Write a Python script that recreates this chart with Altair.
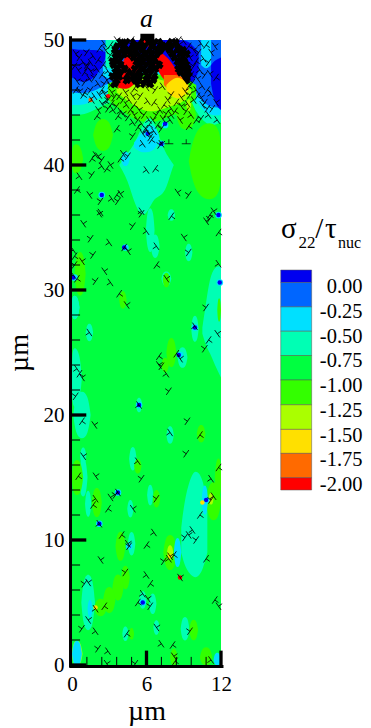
import altair as alt
import pandas as pd

FONT = "Liberation Serif"
W, H = 149, 625
LEVELS = list("0123456789")
COLORS = ["#0000f0", "#0066ff", "#00e0ff", "#00ffb4", "#00ff40",
          "#33ff00", "#aaff00", "#ffe000", "#ff6a00", "#ff0000"]

# contour regions near the top: level, x (um), lower and upper boundary (um)
regions = [
    ("3", [0, 1, 2, 3, 4, 5, 6, 7, 8, 9, 10, 11, 12], [44.0, 44.0, 44.5, 45, 45.5, 46, 46, 46, 46, 46, 44.2, 43.0, 43.4], [50] * 13),
    ("2", [0, 1, 2, 3, 4, 5, 6, 7, 8, 9, 10, 11, 12], [44.8, 44.8, 45.2, 45.8, 46.5, 47, 47, 47, 47, 47, 45.0, 43.9, 44.0], [50] * 13),
    ("1", [0, 1, 2, 3, 4, 5, 6, 7, 8, 9, 10, 11, 12], [45.8, 45.7, 46.0, 46.6, 47, 47.5, 47.5, 47.5, 47.5, 47.5, 45.6, 44.6, 44.6], [50] * 13),
    ("0", [0, 0.7, 1.4, 2.0, 2.5, 2.8], [47.0, 46.6, 46.7, 47.2, 48.0, 48.9], [49.3, 49.2, 49.2, 49.2, 49.1, 49.0]),
    ("0", [3.6, 5, 6, 7, 8, 9.2, 9.7, 10.2], [49.0, 48.0, 47.8, 47.8, 47.8, 47.0, 46.4, 47.5], [50, 50, 50, 50, 50, 50, 49.6, 49.0]),
    ("2", [10.4, 10.8, 11.2], [48.0, 47.6, 48.0], [50, 50, 50]),
    ("0", [11.2, 11.5, 12], [46.5, 44.8, 44.4], [48, 48.4, 48.6]),
    ("3", [2.7, 3.0, 3.4, 3.7], [47.6, 47.0, 47.2, 48.0], [50, 50, 50, 50]),
    ("2", [2.5, 2.7, 3.4, 3.7], [47.2, 47.0, 46.8, 47.2], [48, 47.8, 47.6, 48]),
    ("5", [2.9, 4, 5, 6, 7, 8, 9, 10], [45.2, 44.4, 43.6, 43.4, 43.5, 44.0, 44.2, 45.4], [46.5, 47.0, 47.2, 47.4, 47.2, 47.2, 47.0, 46.4]),
    ("6", [3.6, 4.4, 5.2, 6.2, 7.2, 8.2, 9.0, 9.6], [45.8, 45.2, 44.6, 44.2, 44.4, 44.8, 45.0, 45.5], [46.2, 46.6, 46.8, 47.0, 46.8, 46.6, 46.5, 46.0]),
    ("9", [3.7, 4.4, 5.0, 5.4], [46.2, 46.0, 46.4, 47.2], [47.0, 49.2, 49.4, 48.0]),
    ("9", [6.7, 7.2, 7.7, 8.3, 8.8], [48.0, 47.0, 46.6, 46.6, 46.8], [49.2, 49.0, 48.6, 47.8, 47.0]),
    ("8", [7.4, 8.0, 8.6, 9.3], [46.4, 45.8, 45.9, 46.4], [47.2, 47.2, 47.2, 46.8]),
    ("7", [7.6, 8.2, 8.8, 9.4], [46.0, 45.3, 45.3, 46.0], [46.4, 47.0, 47.0, 46.4]),
    ("9", [5.4, 6.0, 6.6], [49.6, 49.4, 49.6], [50, 50, 50]),
    # large aqua field and strips further down
    ("3", [3.8, 4.5, 5.0, 5.5, 6.0, 6.5, 7.0, 7.5, 8.0, 8.2], [40, 38.8, 37.0, 36, 36, 37.2, 37.5, 37.8, 39.5, 40], [40, 41, 41.6, 42.8, 43.8, 43.8, 42.3, 41, 40.3, 40]),
    ("2", [5.0, 5.5, 6.1, 6.7, 7.0], [41.4, 41.0, 41.0, 41.2, 42.0], [41.8, 42.4, 43.2, 43.2, 42.4]),
    ("3", [10.5, 10.8, 11.1, 11.5, 12], [26.5, 25.5, 25, 24, 23], [27, 29, 31, 31.9, 31.9]),
    ("3", [8.8, 9.1, 9.7, 10.1, 10.5, 10.9], [9, 7.8, 7, 7, 7.5, 9], [11, 13.5, 15.5, 15.5, 15, 13]),
]

# smaller rounded contours: level, centre x, centre y, half width, half height (um)
blob_level = ["5", "5", "5", "5", "5", "6", "2", "2",
              "3", "3", "3", "3", "3", "3", "3", "3", "3", "3", "3", "3", "3",
              "5", "5", "5", "5", "5", "5", "5", "6", "5", "5", "5", "5", "5", "5", "5", "6", "6",
              "3", "3", "3", "3", "3", "3", "3", "3", "3", "3", "3", "3", "3", "2", "2", "2",
              "5", "5", "5", "5", "5", "6", "6", "6", "2", "5", "5", "5", "5", "2"]
blob_x = [2.5, 0.3, 11.1, 9.2, 9.4, 9.4, 4.3, 0.2,
          6.3, 6.7, 9.9, 8.9, 1.4, 5.4, 7.9, 0.9, 4.9, 0.9, 9.4, 8.0, 7.6,
          8.0, 7.5, 0.65, 4.1, 10.4, 11.85, 5.3, 0.5, 0.4, 11.8, 7.6, 11.4, 7.9, 4.3, 3.7, 7.9, 11.2,
          0.2, 0.2, 0.8, 1.3, 1.3, 4.7, 4.8, 6.3, 6.5, 5.7, 6.8, 9.1, 4.3, 1.45, 8.5, 10.7,
          3.0, 2.3, 9.8, 4.8, 10.8, 2.0, 2.0, 0.4, 11.7, 3.9, 6.8, 2.0, 8.2, 0.4]
blob_y = [42.4, 40.5, 40.3, 44.0, 44.8, 44.8, 40.5, 28.6,
          34.8, 33.5, 26.9, 24.6, 26.6, 20.8, 18.4, 16.7, 16.5, 15.0, 33.0, 36.0, 30.9,
          25.0, 24.0, 31.3, 29.2, 18.5, 28.4, 15.9, 15.0, 15.0, 15.0, 30.8, 13.1, 9.0, 7.0, 6.2, 9.0, 13.3,
          23.0, 28.6, 20.0, 12.9, 5.0, 12.5, 9.7, 13.6, 4.9, 5.2, 3.0, 2.9, 2.5, 4.5, 9.0, 13.2,
          5.2, 4.6, 2.8, 2.5, 0.6, 13.0, 13.3, 0.9, 0.4, 9.5, 13.3, 13.0, 0.6, 0.9]
blob_rx = [0.8, 0.6, 1.7, 0.8, 0.3, 0.2, 0.35, 0.4,
           0.35, 0.35, 0.3, 0.4, 0.3, 0.25, 0.3, 0.25, 0.3, 0.35, 0.3, 0.3, 0.4,
           0.4, 0.3, 0.45, 0.3, 0.35, 0.15, 0.3, 0.2, 0.5, 0.3, 0.3, 0.6, 0.55, 0.35, 0.45, 0.25, 0.2,
           0.6, 0.4, 0.7, 0.25, 0.55, 0.25, 0.3, 0.25, 0.3, 0.3, 0.25, 0.35, 0.25, 0.2, 0.3, 0.25,
           0.5, 0.5, 0.35, 0.2, 0.5, 0.15, 0.15, 0.45, 0.3, 0.4, 0.3, 0.4, 0.3, 0.4]
blob_ry = [1.1, 1.0, 2.6, 1.0, 0.6, 0.4, 0.5, 0.8,
           1.5, 0.8, 0.9, 0.7, 0.6, 0.5, 0.6, 0.6, 0.8, 1.3, 0.6, 0.4, 0.5,
           1.0, 0.5, 1.5, 0.6, 0.6, 0.8, 0.5, 0.5, 1.2, 1.3, 0.5, 1.3, 1.2, 0.8, 0.9, 0.5, 0.4,
           2.0, 0.8, 1.6, 0.9, 1.9, 0.6, 0.8, 0.7, 0.7, 0.6, 0.5, 0.8, 0.5, 0.6, 1.0, 1.0,
           0.9, 0.6, 0.7, 0.4, 0.7, 1.0, 0.4, 0.9, 0.5, 1.0, 0.6, 1.0, 0.6, 0.9]

# tiny cores and their halos round single dislocations
halo_x = [4.3, 2.2, 3.7, 10.8, 11.8, 0.2, 11.9, 9.9, 8.7, 5.4, 5.7, 6.2, 7.2, 7.5, 2.4, 4.6]
halo_y = [33.4, 11.3, 13.8, 13.2, 36.0, 31.0, 30.6, 27.0, 24.8, 20.8, 5.0, 42.3, 41.7, 43.2, 37.6, 9.5]
core_x = [4.2, 2.2, 3.7, 10.8, 11.8, 0.1, 11.9, 9.9, 8.6, 5.4, 5.7, 6.1, 7.2, 7.5, 2.4, 8.7, 1.5, 2.9, 10.5, 7.9, 1.9]
core_y = [33.4, 11.3, 13.8, 13.2, 36.0, 31.0, 30.6, 27.0, 24.8, 20.8, 5.0, 42.5, 41.7, 43.3, 37.6, 7.0, 45.2, 45.5, 13.0, 8.7, 4.6]
core_l = ["0", "0", "0", "0", "0", "0", "0", "0", "0", "0", "0", "0", "0", "0", "0", "9", "8", "9", "7", "7", "7"]

# dense pile-up under the top surface: one y per row with its x positions
pile_y = [49.8, 49.5, 49.2, 48.9, 48.6, 48.3, 48.0, 47.7, 47.4, 47.1, 46.8, 46.5]
pile_x = [
    [3.9, 4.4, 5.0, 5.5, 6.2, 6.7, 7.2, 7.8, 8.3],
    [3.7, 4.2, 4.8, 5.3, 5.9, 6.5, 7.0, 7.5, 8.1, 8.6],
    [3.5, 4.0, 4.5, 5.1, 5.7, 6.2, 6.8, 7.3, 7.9, 8.4, 8.9],
    [3.6, 4.2, 4.7, 5.3, 5.8, 6.4, 7.0, 8.1, 8.7, 9.2],
    [3.5, 4.0, 5.0, 5.6, 6.1, 6.7, 8.3, 8.9],
    [3.3, 3.7, 5.2, 5.7, 6.3, 6.8, 8.5, 9.0],
    [3.4, 3.9, 5.4, 6.0, 6.5, 7.0, 8.7, 9.2],
    [3.6, 4.2, 5.1, 5.7, 6.2, 6.7, 8.6, 9.0, 9.3],
    [3.5, 4.0, 4.7, 5.3, 5.9, 6.4, 8.8, 9.3],
    [3.3, 3.8, 4.4, 5.0, 5.5, 6.1, 6.6, 9.0, 9.4],
    [3.6, 4.4, 4.9, 5.4, 6.0, 6.5, 9.2],
    [3.4, 5.2, 5.8, 6.3],
]

# individual dislocations (x, y in um)
disl = [
    (0.9,35.3),(1.5,34.1),(3.0,33.8),(4.2,33.4),(4.5,33.1),(1.7,32.8),(0.1,33.2),(0.2,32.7),(0.8,32.3),(0.2,32.0),
    (0.1,31.2),(0.4,30.9),(2.6,31.5),(1.9,30.7),(3.1,30.6),(3.8,29.7),(4.4,28.8),(4.9,35.1),(6.0,34.7),(8.0,35.9),
    (9.0,34.2),(9.4,33.0),(6.8,33.5),(6.8,32.0),(7.6,30.9),(10.8,28.6),(11.8,32.1),(11.8,34.6),(10.8,35.5),(11.1,35.7),
    (9.9,27.1),(11.0,26.0),(11.7,26.5),(10.7,25.3),(1.4,26.6),(7.0,24.7),(7.0,24.0),(7.2,23.9),(7.6,23.3),(8.4,24.9),
    (8.7,24.5),(7.8,21.9),(0.4,23.7),(0.6,23.3),(0.8,23.0),(0.3,21.5),(5.4,20.8),(0.8,19.5),(1.8,19.2),(9.3,19.5),
    (7.9,18.6),(10.3,18.4),(0.9,16.7),(9.2,16.9),(5.3,16.3),(0.5,15.1),(1.9,15.1),(5.6,14.9),(11.2,14.9),(11.8,15.8),
    (2.2,36.1),(5.6,36.1),(1.9,13.3),(1.7,12.8),(3.1,13.4),(3.5,13.6),(3.7,13.8),(2.9,12.5),(4.9,12.5),(6.8,13.3),
    (2.2,11.3),(4.0,10.4),(4.5,9.7),(4.6,9.5),(6.6,10.6),(6.0,9.6),(9.4,10.4),(9.1,10.2),(9.7,10.8),(8.2,8.8),
    (7.9,8.7),(7.4,8.3),(7.8,8.5),(10.8,8.5),(8.7,7.0),(4.3,7.4),(6.0,7.2),(6.3,6.5),(1.3,6.6),(1.0,6.5),
    (5.7,5.7),(5.3,5.0),(6.1,5.3),(6.3,4.7),(1.9,4.5),(2.6,4.7),(1.3,3.6),(0.8,2.9),(1.9,2.7),(4.4,2.5),
    (6.8,3.0),(9.5,2.7),(7.2,1.7),(8.1,1.6),(8.2,0.7),(2.1,1.3),(2.9,1.1),(11.5,5.2),(11.8,4.7),(11.2,13.2),
    (11.4,13.5),(10.3,12.0),(2.8,0.1),(5.1,0.1),(11.2,0.4),(8.3,0.3),(2.3,8.4),(10.0,10.0),
    (1.9,40.8),(1.6,40.5),(2.1,40.7),(2.4,40.4),(2.4,39.9),(2.8,39.7),(3.1,40.0),(1.6,39.2),(0.6,39.1),(0.4,38.0),
    (1.4,37.6),(2.3,37.1),(3.2,37.3),(3.6,37.6),(3.9,37.7),(3.7,37.1),(2.3,36.2),(3.9,40.5),(4.1,40.9),(4.5,40.7),
    (6.0,39.6),(6.7,39.7),(8.5,37.8),(9.4,37.6),(5.6,36.3),(11.1,36.0),(11.4,36.3),(4.9,42.3),(5.7,41.7),(3.6,42.9),
    (7.2,41.7),(7.1,41.6),(7.9,43.6),(9.4,43.1),(8.7,43.6),(10.4,43.7),(11.7,43.6),(2.0,43.9),(2.1,44.4),(2.9,44.5),
    (1.6,45.2),(0.9,45.6),
    (0.3,48.9),(0.6,48.6),(0.9,48.2),(1.2,47.8),(1.5,47.5),(1.8,47.0),(2.1,46.5),(2.4,46.0),(2.6,45.7),(1.2,48.0),
    (1.5,48.2),(1.0,47.4),(0.5,47.6),(0.2,47.9),(2.0,47.7),(2.4,47.2),(2.8,46.8),(3.1,46.4),(2.9,47.5),(2.5,48.0),
    (3.2,45.8),(3.4,45.4),(2.6,49.7),(2.7,45.1),(2.2,45.6),(1.5,46.0),(1.8,45.5),(1.0,45.8),(0.6,45.9),
    (4.1,45.2),(4.4,44.8),(4.7,44.4),(5.0,44.0),(5.3,43.6),(5.6,43.3),(5.9,42.9),(6.2,42.5),(6.3,42.2),(4.6,45.2),
    (5.0,44.8),(5.4,44.4),(5.8,44.0),(6.2,43.6),(6.2,43.2),(6.5,43.6),(6.8,44.0),(7.1,44.4),(7.4,44.8),(7.7,45.2),
    (8.0,45.6),(6.0,42.8),(6.9,43.2),(7.3,43.7),(7.6,44.1),(8.0,44.5),(8.4,45.0),(8.8,45.4),
    (3.6,44.7),(3.9,44.3),(3.2,44.9),(4.9,45.5),(5.5,45.5),(6.1,45.1),(6.6,45.0),(9.1,45.9),(9.5,45.6),(9.8,45.2),
    (10.1,45.5),(10.5,44.8),(10.9,44.5),(9.3,44.9),
    (9.4,49.5),(9.8,49.2),(10.2,49.0),(10.6,48.5),(10.0,48.3),(9.5,48.6),(9.8,47.9),(10.3,47.6),(9.6,47.2),(10.1,46.9),
    (9.7,46.6),(10.5,46.3),(10.8,49.6),(11.2,49.0),(11.0,48.2),(10.0,46.0),(9.4,46.3),(11.6,45.0),(11.3,44.5),(11.0,44.0),
    (10.9,46.0),(11.5,49.5),
    (1.2,49.0),(1.7,48.7),(2.1,48.4),(2.7,49.2),(3.1,48.8),(3.3,48.2),(2.2,49.3),(3.2,47.1),(2.6,46.5),(3.5,46.4),
    (3.1,49.6),(3.6,50.0),(8.6,50.0),(9.0,49.9),(4.8,50.0),(6.0,46.2),(6.7,46.0),(7.3,46.3),(5.0,46.1),(4.3,45.8),
    (3.8,45.5),(8.0,44.0),(8.3,44.3),(8.8,44.7),(9.2,44.3),(9.6,44.0),(10.0,43.6),(2.4,44.9),(2.9,45.2),(3.3,44.4),
    (3.7,43.9),(4.1,44.1),(4.5,43.8),(4.9,43.4),(5.3,43.0),(5.7,42.5),(7.2,42.9),(6.6,42.7),(6.4,42.0),(0.4,46.7),
    (1.0,46.6),(1.4,46.9),(0.3,46.0),(10.4,45.4),(10.7,45.0),(11.2,45.7),(11.6,47.0),(11.1,47.3),(10.7,47.2),(10.4,49.7),
]
upright_x = [7.8, 9.2]
upright_y = [41.7, 41.7]

x_major, y_major = [0, 6, 12], [0, 10, 20, 30, 40, 50]
x_minor = [1.2, 2.4, 3.6, 4.8, 7.2, 8.4, 9.6, 10.8]
y_minor = [2, 4, 6, 8, 12, 14, 16, 18, 22, 24, 26, 28, 32, 34, 36, 38, 42, 44, 46, 48]

legend_edges = [31.6, 30.6, 28.65, 26.7, 24.76, 22.8, 20.82, 18.85, 16.93, 14.98, 14.0]
legend_labels = ["0.00", "-0.25", "-0.50", "-0.75", "-1.00", "-1.25", "-1.50", "-1.75", "-2.00"]
legend_label_y = [30.24, 28.26, 26.28, 24.3, 22.32, 20.34, 18.36, 16.38, 14.4]

# ---------------------------------------------------------------------------
xs = alt.Scale(domain=[0, 12], nice=False, zero=False)
ys = alt.Scale(domain=[0, 50], nice=False, zero=False)
cs = alt.Scale(domain=LEVELS, range=COLORS)
x_axis = alt.Axis(values=x_major, grid=False, domain=False, ticks=False, labelFont=FONT, labelFontSize=21,
                  labelColor="black", labelPadding=8, labelFlush=False, format="d", title="µm",
                  titleFont=FONT, titleFontSize=28, titleFontWeight="normal", titleColor="black", titlePadding=3)
y_axis = alt.Axis(values=y_major, grid=False, domain=False, ticks=False, labelFont=FONT, labelFontSize=21,
                  labelColor="black", labelPadding=8, labelFlush=False, format="d", title="µm",
                  titleFont=FONT, titleFontSize=28, titleFontWeight="normal", titleColor="black", titlePadding=10)
X = lambda f: alt.X(f, type="quantitative", scale=xs, axis=x_axis)
Y = lambda f: alt.Y(f, type="quantitative", scale=ys, axis=y_axis)
COL = alt.Color("lev:N", scale=cs, legend=None)

base = alt.Chart(pd.DataFrame(dict(x0=[0], x1=[12], y0=[0], y1=[50], lev=["4"]))).mark_rect().encode(
    x=X("x0"), x2="x1:Q", y=Y("y0"), y2="y1:Q", color=COL)


def region(lev, x, lo, hi):
    df = pd.DataFrame(dict(x=x, lo=lo, hi=hi, lev=[lev] * len(x)))
    return alt.Chart(df).mark_area(interpolate="basis").encode(x=X("x"), y=Y("lo"), y2="hi:Q", color=COL)


def blob(lev, cx, cy, rx, ry):
    x = [cx - rx, cx - 0.7 * rx, cx, cx + 0.7 * rx, cx + rx]
    k = [0, 1.0, 1.25, 1.0, 0]
    return region(lev, [min(12, max(0, v)) for v in x],
                  [max(0, cy - ry * q) for q in k], [cy + ry * q for q in k])


patches = [region(*r) for r in regions]
patches += [blob(*b) for b in zip(blob_level, blob_x, blob_y, blob_rx, blob_ry)]

halo = alt.Chart(pd.DataFrame(dict(x=halo_x, y=halo_y, lev=["2"] * len(halo_x)))).mark_circle(size=45, opacity=1).encode(
    x=X("x"), y=Y("y"), color=COL)
core = alt.Chart(pd.DataFrame(dict(x=core_x, y=core_y, lev=core_l))).mark_circle(size=20, opacity=1).encode(
    x=X("x"), y=Y("y"), color=COL)

SYM = "M-1,0L1,0M0,0L0,-1"
ANGLES = [55, 305, 235, 125]
d_df = pd.DataFrame([dict(x=p[0], y=p[1], a=ANGLES[i % 4]) for i, p in enumerate(disl)])
pile = [dict(x=v, y=yy, a=ANGLES[(i + j) % 4]) for i, (yy, vs) in enumerate(zip(pile_y, pile_x)) for j, v in enumerate(vs)]


def symbols(df, sw, size):
    return alt.Chart(df).mark_point(shape=SYM, filled=False, stroke="black", strokeWidth=sw, size=size, opacity=1).encode(
        x=X("x"), y=Y("y"), angle=alt.Angle("a:Q", scale=None))


disl_layer = symbols(d_df, 0.75, 80)
pile_layer = symbols(pd.DataFrame(pile), 4.2, 75)
up_layer = symbols(pd.DataFrame(dict(x=upright_x, y=upright_y, a=[0, 0])), 0.75, 80)


def rule_df(a0, a1, b):
    return pd.DataFrame(dict(a0=[a0] * len(b), a1=[a1] * len(b), b=b))


def hticks(vals, length, sw):
    return alt.Chart(rule_df(0, length, vals)).mark_rule(color="black", strokeWidth=sw).encode(
        x=X("a0"), x2="a1:Q", y=Y("b"))


def vticks(vals, length, sw):
    return alt.Chart(rule_df(0, length, vals)).mark_rule(color="black", strokeWidth=sw).encode(
        y=Y("a0"), y2="a1:Q", x=X("b"))


axis_left = alt.Chart(pd.DataFrame(dict(x=[-0.12], y=[-0.2], y2=[50.3]))).mark_rule(color="black", strokeWidth=3).encode(
    x=X("x"), y=Y("y"), y2="y2:Q")
axis_bottom = alt.Chart(pd.DataFrame(dict(y=[-0.12], x=[-0.2], x2=[12.2]))).mark_rule(color="black", strokeWidth=3).encode(
    y=Y("y"), x=X("x"), x2="x2:Q")
top_mark = alt.Chart(pd.DataFrame(dict(x=[6.07], y=[50.0], y2=[50.5]))).mark_rule(color="black", strokeWidth=14).encode(
    x=X("x"), y=Y("y"), y2="y2:Q")

legend_df = pd.DataFrame(dict(y0=legend_edges[:-1], y1=legend_edges[1:], lev=LEVELS, x0=[16.81] * 10, x1=[19.3] * 10))
legend_rect = alt.Chart(legend_df).mark_rect(stroke="#555555", strokeWidth=0.5).encode(
    x=X("x0"), x2="x1:Q", y=Y("y0"), y2="y1:Q", color=COL)
legend_text = alt.Chart(pd.DataFrame(dict(t=legend_labels, y=legend_label_y, x=[23.4] * 9))).mark_text(
    font=FONT, fontSize=20.5, align="right", baseline="middle", color="black").encode(
    x=X("x"), y=Y("y"), text="t:N")


def piece(txt, x, y, fs):
    return alt.Chart(pd.DataFrame(dict(t=[txt], x=[x], y=[y]))).mark_text(
        font=FONT, fontSize=fs, align="left", baseline="alphabetic", color="black").encode(
        x=X("x"), y=Y("y"), text="t:N")


legend_title = [piece("σ", 16.83, 34.16, 29), piece("22", 18.24, 33.36, 17), piece("/", 19.6, 34.16, 29),
                piece("τ", 20.37, 34.16, 29), piece("nuc", 21.42, 33.36, 16)]

chart = alt.layer(
    base, *patches, halo, core, disl_layer, up_layer, pile_layer,
    hticks(y_major, 1.15, 3.3), hticks(y_minor, 0.65, 1),
    vticks(x_major[1:], 1.15, 3.3), vticks(x_minor, 0.65, 1),
    axis_left, axis_bottom, top_mark, legend_rect, legend_text, *legend_title,
).properties(
    width=W, height=H,
    title=alt.TitleParams("a", font=FONT, fontSize=26, fontStyle="italic", fontWeight="normal",
                          color="black", anchor="middle", offset=-5),
    autosize=alt.AutoSizeParams(type="none"),
    padding={"left": 64, "top": 32, "right": 142, "bottom": 63},
    background="white",
).configure_view(stroke=None)

chart.save("out.html", embed_options={"renderer": "svg", "actions": False})
